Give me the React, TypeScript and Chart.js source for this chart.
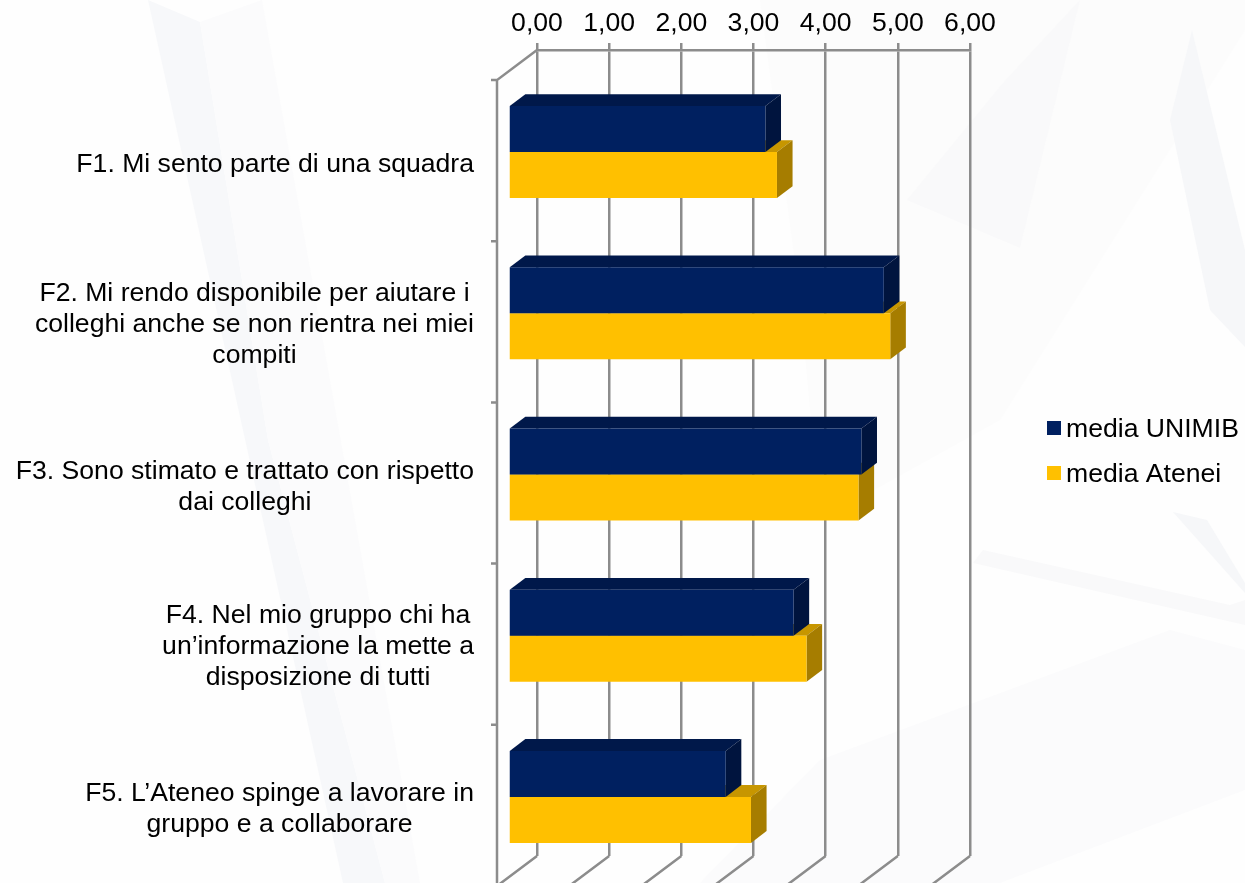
import React, { useEffect, useRef } from "react";
import { Chart, registerables } from "chart.js";

Chart.register(...registerables);

const categories = [
  ["F1. Mi sento parte di una squadra"],
  ["F2. Mi rendo disponibile per aiutare i", "colleghi anche se non rientra nei miei", "compiti"],
  ["F3. Sono stimato e trattato con rispetto", "dai colleghi"],
  ["F4. Nel mio gruppo chi ha", "un\u2019informazione la mette a", "disposizione di tutti"],
  ["F5. L\u2019Ateneo spinge a lavorare in", "gruppo e a collaborare"],
];
const mediaUnimib = [3.56, 5.2, 4.89, 3.95, 3.01];
const mediaAtenei = [3.72, 5.29, 4.85, 4.13, 3.36];
const xTicks = [0, 1, 2, 3, 4, 5, 6];

const FONT = '26.6px "Liberation Sans", Arial, sans-serif';
const GRID = "#8c8c8c";
const LINE = 2.5;
const BLUE = "#002060";
const YELLOW = "#FFC000";
const sideColors: Record<string, { top: string; side: string }> = {
  [BLUE]: { top: "#00184A", side: "#00143E" },
  [YELLOW]: { top: "#C79600", side: "#A67D00" },
};

const WALL_DX = 40, WALL_DY = 30; // depth of the chart floor
const BAR_SHIFT_X = -28.5, BAR_SHIFT_Y = 21.5; // bar plane relative to back wall
const BAR_DX = 15.6, BAR_DY = 11.8;
const labelNudge = [4, 3, 4, 2, 4];

const bgPolys: [string, number[]][] = [
  ["#fbfbfc", [820, 760, 1170, 630, 1245, 650, 1245, 790, 1000, 883, 700, 883]],
  ["#fcfcfc", [760, 0, 1245, 0, 1245, 30, 1000, 420, 820, 520, 800, 300]],
  ["#f9f9fa", [1080, 0, 1020, 248, 907, 200, 1003, 83]],
  ["#f7f8fa", [148, 0, 200, 22, 268, 440, 385, 883, 343, 883]],
  ["#fbfbfc", [200, 22, 262, 0, 420, 883, 385, 883, 268, 440]],
  ["#f6f7f9", [1192, 30, 1245, 250, 1245, 347, 1210, 310, 1170, 120]],
  ["#f6f7f9", [1173, 512, 1207, 520, 1245, 583, 1245, 593]],
  ["#f9f9fa", [983, 550, 1230, 605, 1245, 600, 1245, 625, 973, 563]],
];

const chart3d = {
  id: "chart3d",
  beforeDraw(chart: any) {
    const { ctx, width, height } = chart;
    ctx.save();
    ctx.fillStyle = "#fefefe";
    ctx.fillRect(0, 0, width, height);
    for (const [color, p] of bgPolys) {
      ctx.fillStyle = color;
      ctx.beginPath();
      ctx.moveTo(p[0], p[1]);
      for (let i = 2; i < p.length; i += 2) ctx.lineTo(p[i], p[i + 1]);
      ctx.closePath();
      ctx.fill();
    }
    ctx.restore();
  },
  beforeDatasetsDraw(chart: any) {
    const { ctx, scales, chartArea } = chart;
    const xs = scales.x, ys = scales.y;
    ctx.save();
    ctx.strokeStyle = GRID;
    ctx.lineWidth = LINE;
    ctx.beginPath();
    // floor lines
    for (const t of xTicks) {
      const px = xs.getPixelForValue(t);
      ctx.moveTo(px, chartArea.bottom);
      ctx.lineTo(px - WALL_DX, chartArea.bottom + WALL_DY);
    }
    // side wall
    const fx = chartArea.left - WALL_DX;
    ctx.moveTo(chartArea.left, chartArea.top);
    ctx.lineTo(fx, chartArea.top + WALL_DY);
    ctx.lineTo(fx, chartArea.bottom + WALL_DY);
    // category ticks on the front edge
    const band = (chartArea.bottom - chartArea.top) / categories.length;
    for (let i = 0; i <= categories.length; i++) {
      const y = ys.getPixelForValue(0) - band / 2 + i * band + WALL_DY;
      ctx.moveTo(fx - 6, y);
      ctx.lineTo(fx, y);
    }
    ctx.stroke();
    ctx.restore();
    ctx.save();
    ctx.translate(BAR_SHIFT_X, BAR_SHIFT_Y);
  },
  beforeDatasetDraw(chart: any, args: any) {
    const { ctx } = chart;
    const colors = sideColors[chart.data.datasets[args.index].backgroundColor];
    for (const el of args.meta.data) {
      const { x, y, base, height } = el.getProps(["x", "y", "base", "height"]);
      const t = y - height / 2, b = y + height / 2;
      ctx.fillStyle = colors.top;
      ctx.beginPath();
      ctx.moveTo(base, t);
      ctx.lineTo(base + BAR_DX, t - BAR_DY);
      ctx.lineTo(x + BAR_DX, t - BAR_DY);
      ctx.lineTo(x, t);
      ctx.closePath();
      ctx.fill();
      ctx.fillStyle = colors.side;
      ctx.beginPath();
      ctx.moveTo(x, t);
      ctx.lineTo(x + BAR_DX, t - BAR_DY);
      ctx.lineTo(x + BAR_DX, b - BAR_DY);
      ctx.lineTo(x, b);
      ctx.closePath();
      ctx.fill();
    }
  },
  afterDatasetsDraw(chart: any) {
    chart.ctx.restore();
  },
  afterDraw(chart: any) {
    const { ctx, scales } = chart;
    ctx.save();
    ctx.font = FONT;
    ctx.fillStyle = "#000000";
    ctx.textBaseline = "middle";
    ctx.textAlign = "center";
    const lineH = 31;
    categories.forEach((lines, i) => {
      const cy = scales.y.getPixelForValue(i) + WALL_DY + labelNudge[i];
      const w = Math.max(...lines.map((l) => ctx.measureText(l).width));
      const cx = 474 - w / 2;
      lines.forEach((l, k) => {
        ctx.fillText(l, cx, cy + (k - (lines.length - 1) / 2) * lineH);
      });
    });
    // legend
    ctx.textAlign = "left";
    chart.data.datasets.forEach((d: any, i: number) => {
      const y = 428 + i * 45;
      ctx.fillStyle = d.backgroundColor;
      ctx.fillRect(1047, y - 7, 14, 14);
      ctx.fillStyle = "#000000";
      ctx.fillText(d.label, 1066, y + 2);
    });
    ctx.restore();
  },
};

export default function App() {
  const ref = useRef<HTMLCanvasElement>(null);
  useEffect(() => {
    const chart = new Chart(ref.current!, {
      type: "bar",
      data: {
        labels: categories.map((c) => c.join(" ")),
        datasets: [
          { label: "media UNIMIB", data: mediaUnimib, backgroundColor: BLUE, clip: false as any },
          { label: "media Atenei", data: mediaAtenei, backgroundColor: YELLOW, clip: false as any },
        ],
      },
      options: {
        indexAxis: "y",
        responsive: false,
        animation: false,
        layout: { padding: { left: 537, right: 275, top: 0, bottom: 27 } },
        datasets: { bar: { categoryPercentage: 0.571, barPercentage: 1, borderWidth: 0 } },
        plugins: { legend: { display: false }, tooltip: { enabled: false }, title: { display: false } },
        scales: {
          x: {
            position: "top",
            min: 0,
            max: 6,
            afterFit: (s: any) => { s.height = 50; },
            ticks: {
              stepSize: 1,
              maxRotation: 0,
              padding: 3,
              color: "#000000",
              font: { family: '"Liberation Sans", Arial, sans-serif', size: 26.6 },
              callback: (v: any) => Number(v).toFixed(2).replace(".", ","),
            },
            grid: { color: GRID, lineWidth: LINE, tickLength: 7, drawOnChartArea: true },
            border: { display: true, color: GRID, width: LINE },
          },
          y: {
            afterFit: (s: any) => { s.width = 0; },
            ticks: { display: false },
            grid: { display: false },
            border: { display: false },
          },
        },
      } as any,
      plugins: [chart3d],
    });
    return () => chart.destroy();
  }, []);
  return (
    <div style={{ position: "fixed", left: 0, top: 0, width: 1245, height: 883, overflow: "hidden" }}>
      <canvas ref={ref} width={1245} height={883} style={{ display: "block" }} />
    </div>
  );
}
